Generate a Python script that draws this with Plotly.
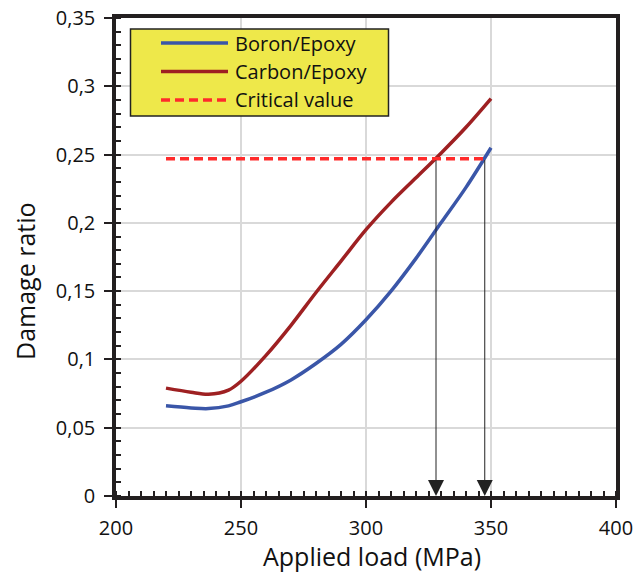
import plotly.graph_objects as go

# Applied load (MPa) and damage ratio for both laminates
load_mpa = [220, 230, 237, 245, 250, 260, 270, 280, 290, 300, 310, 320, 330, 340, 350]
boron_epoxy = [0.066, 0.0645, 0.064, 0.066, 0.069, 0.076, 0.085, 0.097, 0.111,
               0.129, 0.150, 0.174, 0.200, 0.226, 0.255]
carbon_epoxy = [0.079, 0.076, 0.0745, 0.0775, 0.084, 0.103, 0.125, 0.149, 0.172,
                0.195, 0.215, 0.233, 0.251, 0.270, 0.291]

# Critical damage ratio and the loads where each curve reaches it
critical_value = 0.247
critical_load_range = [220, 348]
critical_loads = [328, 347.5]

series_names = ["Boron/Epoxy", "Carbon/Epoxy", "Critical value"]

x_tick_vals = [200, 250, 300, 350, 400]
x_tick_text = ["200", "250", "300", "350", "400"]
y_tick_vals = [0, 0.05, 0.1, 0.15, 0.2, 0.25, 0.3, 0.35]
y_tick_text = ["0", "0,05", "0,1", "0,15", "0,2", "0,25", "0,3", "0,35"]

BLUE = "#3A56A8"
DARK_RED = "#9E2022"
BRIGHT_RED = "#FF2B2B"
INK = "#111111"
FONT = "Open Sans"

W, H = 635, 572
M_L, M_R, M_T, M_B = 116, 19, 18, 76
PW, PH = W - M_L - M_R, H - M_T - M_B


def px_x(px):
    return (px - M_L) / PW


def px_y(py):
    return (H - M_B - py) / PH


fig = go.Figure()

fig.add_trace(go.Scatter(
    x=load_mpa, y=boron_epoxy, mode="lines", name=series_names[0],
    line=dict(color=BLUE, width=3.5, shape="spline", smoothing=1.0),
))
fig.add_trace(go.Scatter(
    x=load_mpa, y=carbon_epoxy, mode="lines", name=series_names[1],
    line=dict(color=DARK_RED, width=3.5, shape="spline", smoothing=0.9),
))
fig.add_trace(go.Scatter(
    x=critical_load_range, y=[critical_value, critical_value], mode="lines",
    name=series_names[2],
    line=dict(color=BRIGHT_RED, width=3.5, dash="9px,5px"),
))

# Drop arrows from the critical line down to the load axis
for cl in critical_loads:
    fig.add_annotation(
        x=cl, y=0, ax=cl, ay=critical_value,
        xref="x", yref="y", axref="x", ayref="y",
        text="", showarrow=True, arrowhead=2, arrowsize=3.2,
        arrowwidth=1, arrowcolor="#222222",
    )

# Boxed legend
box_l, box_r, box_t, box_b = 130.5, 388.5, 29, 116
fig.add_shape(type="rect", xref="paper", yref="paper",
              x0=px_x(box_l), x1=px_x(box_r), y0=px_y(box_b), y1=px_y(box_t),
              fillcolor="#EEE84A", line=dict(color="#222222", width=1.5),
              layer="above")
row_y = [43, 71.5, 100]
row_styles = [
    dict(color=BLUE, width=3.5),
    dict(color=DARK_RED, width=3.5),
    dict(color=BRIGHT_RED, width=3.5, dash="9px,5px"),
]
for name, ry, style in zip(series_names, row_y, row_styles):
    fig.add_shape(type="line", xref="paper", yref="paper",
                  x0=px_x(161), x1=px_x(228), y0=px_y(ry), y1=px_y(ry),
                  line=style, layer="above")
    fig.add_annotation(x=px_x(233), y=px_y(ry), xref="paper", yref="paper",
                       text=name, showarrow=False, xanchor="left",
                       yanchor="middle",
                       font=dict(family=FONT, size=20, color=INK))

# Axis titles
fig.add_annotation(x=px_x(372), y=px_y(556), xref="paper", yref="paper",
                   text="Applied load (MPa)", showarrow=False,
                   xanchor="center", yanchor="middle",
                   font=dict(family=FONT, size=25, color=INK))
fig.add_annotation(x=px_x(25), y=px_y(281), xref="paper", yref="paper",
                   text="Damage ratio", showarrow=False, textangle=-90,
                   xanchor="center", yanchor="middle",
                   font=dict(family=FONT, size=25, color=INK))

axis_common = dict(
    showline=True, linecolor="#231F20", linewidth=3.5, mirror=True,
    showgrid=True, gridcolor="#D9D9D9", gridwidth=2,
    ticks="outside", ticklen=8, tickwidth=2, tickcolor="#231F20",
    zeroline=False, automargin=False,
    tickfont=dict(family=FONT, size=20, color=INK),
)

fig.update_xaxes(
    range=[200, 400], tickvals=x_tick_vals, ticktext=x_tick_text,
    ticklabelstandoff=3,
    minor=dict(ticks="inside", dtick=5, ticklen=5, tickwidth=2,
               tickcolor="#231F20", showgrid=False),
    **axis_common,
)
fig.update_yaxes(
    range=[0, 0.35], tickvals=y_tick_vals, ticktext=y_tick_text,
    ticklabelstandoff=5,
    minor=dict(ticks="inside", dtick=0.01, ticklen=5, tickwidth=2,
               tickcolor="#231F20", showgrid=False),
    **axis_common,
)

fig.update_layout(
    template="none",
    width=W, height=H,
    margin=dict(l=M_L, r=M_R, t=M_T, b=M_B),
    paper_bgcolor="white", plot_bgcolor="white",
    font=dict(family=FONT),
    showlegend=False,
)

fig.write_html("out.html")
